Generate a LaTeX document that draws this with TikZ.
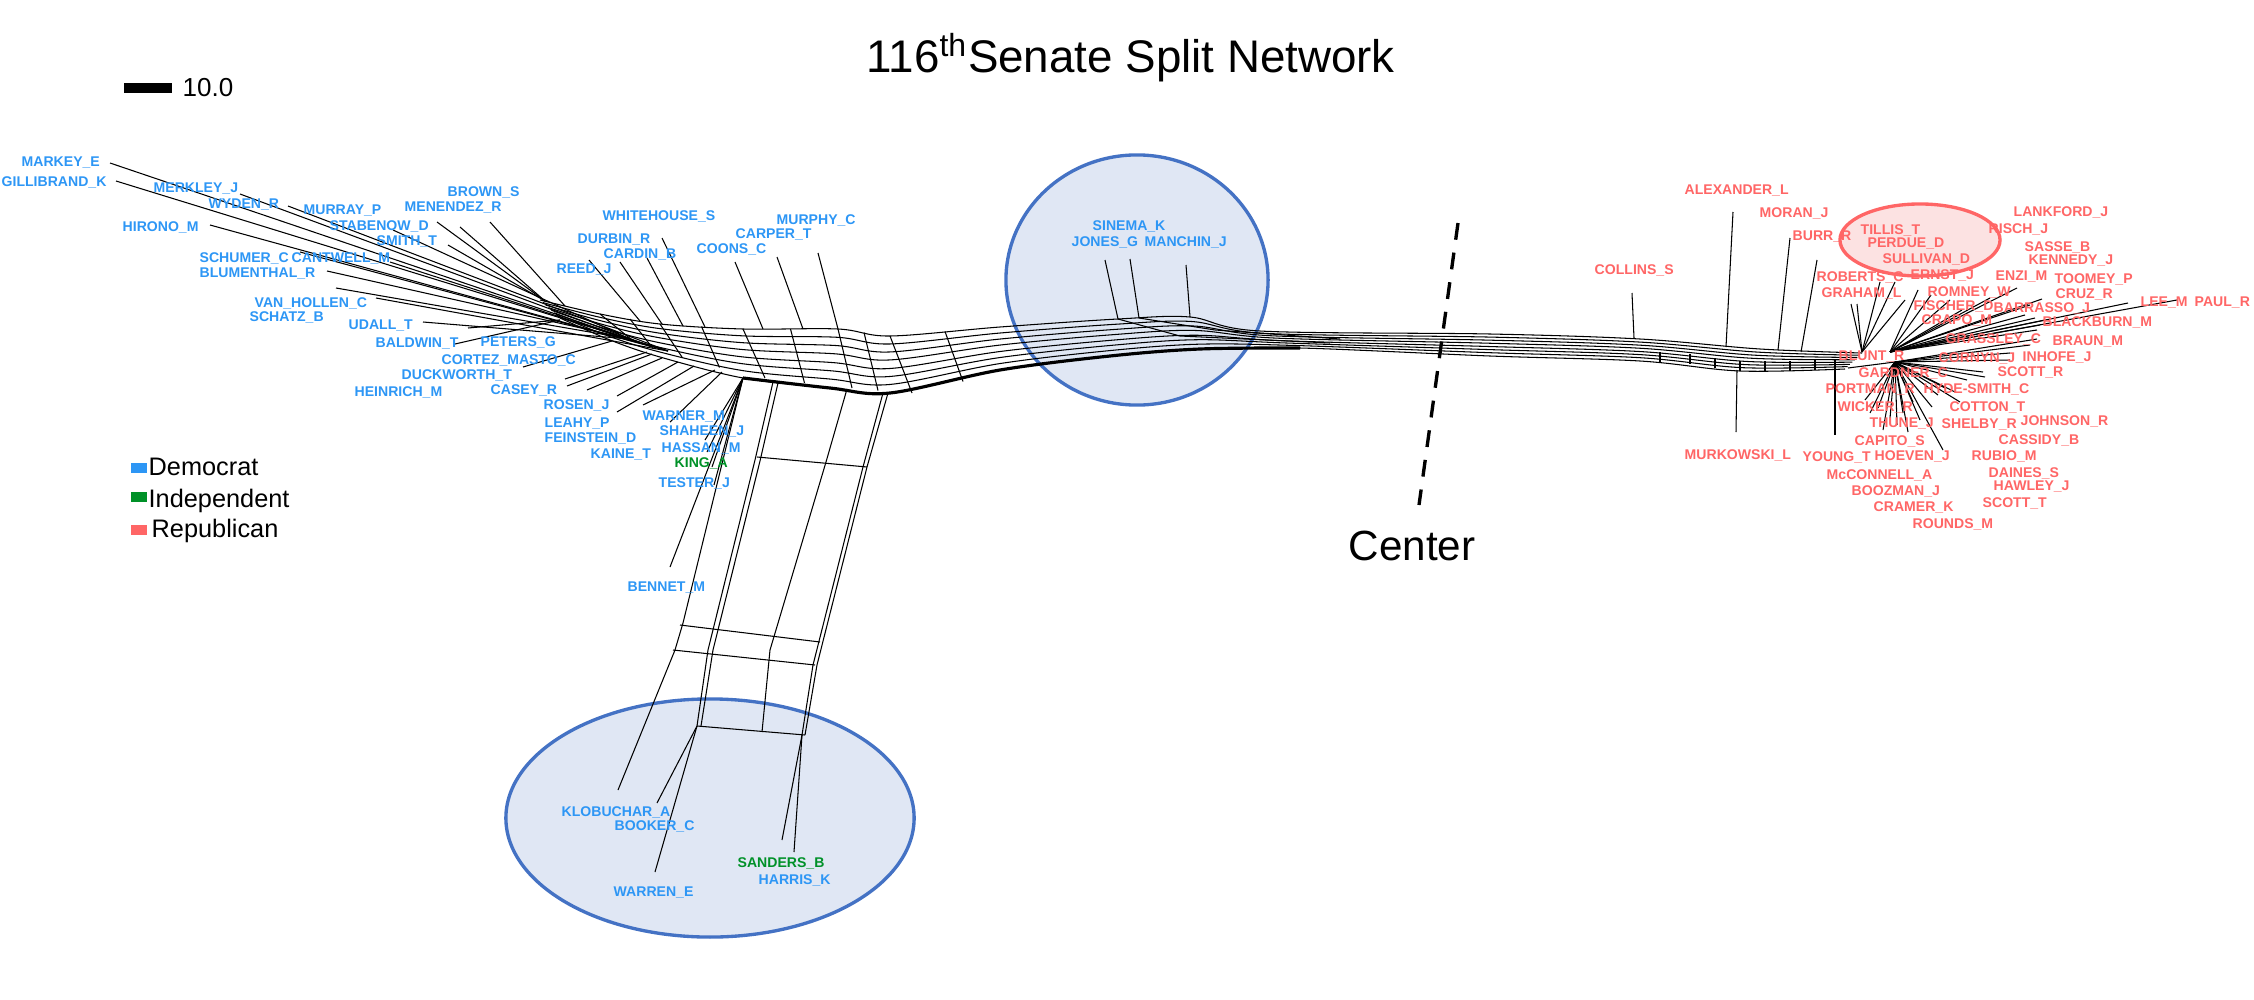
\documentclass[tikz,border=0pt]{standalone}
\usepackage{fontspec}
\setmainfont{Liberation Sans}
\usetikzlibrary{calc}

\definecolor{demblue}{RGB}{45,150,245}
\definecolor{indgreen}{RGB}{0,145,40}
\definecolor{repred}{RGB}{255,102,102}
\definecolor{bubblefill}{RGB}{224,231,244}
\definecolor{bubbleline}{RGB}{68,114,196}
\definecolor{pinkfill}{RGB}{252,226,226}

\tikzset{
  dem/.style={anchor=west,inner sep=0pt,text=demblue,font=\fontsize{4}{5}\selectfont\bfseries},
  ind/.style={dem,text=indgreen},
  rep/.style={dem,text=repred},
  net/.style={line width=0.3pt},
  leaf/.style={line width=0.3pt},
  bubble/.style={draw=bubbleline,fill=bubblefill,line width=0.95pt},
  redbubble/.style={draw=repred,fill=pinkfill,line width=0.95pt},
  legbox/.style={minimum width=0.16cm,minimum height=0.1cm,inner sep=0pt},
  legtext/.style={anchor=base west,inner sep=0pt,font=\fontsize{7.2}{9}\selectfont},
  midline/.style={line width=0.95pt,dash pattern=on 4.8pt off 3.7pt},
}

\begin{document}
\begin{tikzpicture}[x=0.01cm,y=-0.01cm]
\useasboundingbox (0,0) rectangle (2254,1000);

% highlighted groups
\draw[bubble] (710,818) ellipse [x radius=2.04cm,y radius=1.19cm];
\draw[bubble] (1137,280) ellipse [x radius=1.31cm,y radius=1.25cm];
\draw[redbubble] (1920,240) ellipse [x radius=0.8cm,y radius=0.36cm];

% title, scale and legend
\node[anchor=base west,inner sep=0pt,font=\fontsize{13}{15}\selectfont] (title) at (866,72) {116\textsuperscript{th}Senate Split Network};
\node[fill=black,minimum width=0.48cm,minimum height=0.1cm,inner sep=0pt] (scalebar) at (148,88) {};
\node[anchor=west,inner sep=0pt,font=\fontsize{7.4}{9}\selectfont] (scale) at (182,88) {10.0};
\node[legbox,fill=demblue] (kdem) at (139,468) {};
\node[legbox,fill=indgreen] (kind) at (139,497) {};
\node[legbox,fill=repred] (krep) at (139,530) {};
\node[legtext] (tdem) at (148,475) {Democrat};
\node[legtext] (tind) at (148,507) {Independent};
\node[legtext] (trep) at (151,537) {Republican};

% center
\node[anchor=base west,inner sep=0pt,font=\fontsize{12}{14}\selectfont] (center) at (1348,560) {Center};
\coordinate (ctop) at (1458,223);
\coordinate (cbot) at (1419,505);
\draw[midline] (ctop) -- (cbot);

% trunk: top edge a, bottom edge b
\foreach \i/\ax/\ay/\bx/\by in {1/540/300/560/318, 2/600/314/610/340, 3/660/324/660/357,
  4/743/329/743/378, 5/838/329/830/388, 6/890/336/890/393, 7/1000/327/1000/370,
  8/1118/319/1110/356, 9/1190/317/1200/349, 10/1260/331/1300/348, 11/1490/334/1490/356,
  12/1640/339/1640/361, 13/1760/349/1740/371, 14/1862/353/1845/369}
  {\coordinate (a\i) at (\ax,\ay); \coordinate (b\i) at (\bx,\by);}

\foreach \t in {0,0.14,0.28,0.42,0.57,0.71,0.85,1}
  \draw[net] plot[smooth,tension=0.55] coordinates {($(a1)!\t!(b1)$) ($(a2)!\t!(b2)$)
    ($(a3)!\t!(b3)$) ($(a4)!\t!(b4)$) ($(a5)!\t!(b5)$) ($(a6)!\t!(b6)$) ($(a7)!\t!(b7)$)
    ($(a8)!\t!(b8)$) ($(a9)!\t!(b9)$) ($(a10)!\t!(b10)$) ($(a11)!\t!(b11)$)
    ($(a12)!\t!(b12)$) ($(a13)!\t!(b13)$) ($(a14)!\t!(b14)$)};
\draw[net,line width=0.9pt] plot[smooth,tension=0.55] coordinates {(b4) (b5) (b6) (b7) (b8) (b9) (b10)};

% cross splits in the trunk
\foreach \i in {2,...,6}
  \draw[net] (a\i) -- ($(b\i)+(22,0)$);
\foreach \i/\j in {2/3,3/4,4/5,5/6,6/7}
  \draw[net] ($(a\i)!.5!(a\j)$) -- ($(b\i)!.5!(b\j)+(18,0)$);
\foreach \x/\y in {1660/362,1690/364,1715/368,1740/371,1765/371,1790/371,1815/370,1835/369}
  \draw[net] (\x,\y-10) -- (\x,\y);

% hubs
\coordinate (hA) at (650,346);
\coordinate (hB) at (668,351);
\coordinate (hF) at (630,339);
\coordinate (hC) at (545,301);
\coordinate (hD) at (565,306);
\coordinate (hE) at (560,320);
\coordinate (lo1) at (612,341);
\coordinate (lo2) at (647,352);
\coordinate (lo3) at (652,354);
\coordinate (lo4) at (662,358);
\coordinate (lo5) at (678,362);
\coordinate (lo6) at (694,366);
\coordinate (lo7) at (715,370);
\coordinate (lo8) at (722,372);
\coordinate (up1) at (640,321);
\coordinate (up2) at (662,324);
\coordinate (up3) at (683,326);
\coordinate (up4) at (705,327);
\coordinate (up5) at (763,329);
\coordinate (up6) at (803,329);
\coordinate (up7) at (838,329);
\coordinate (hLeg) at (743,378);
\coordinate (sin1) at (1118,319);
\coordinate (sin2) at (1139,318);
\coordinate (sin3) at (1190,317);
\coordinate (hK) at (675,650);
\coordinate (hBL) at (697,726);
\coordinate (hBR) at (802,735);
\coordinate (hColl) at (1634,338);
\coordinate (hAlex) at (1726,347);
\coordinate (hMor) at (1778,350);
\coordinate (hBurr) at (1801,352);
\coordinate (hMurk) at (1737,370);
\coordinate (hYoung) at (1835,370);
\coordinate (hRa) at (1862,352);
\coordinate (hRb) at (1890,352);
\coordinate (hRc) at (1895,362);

% the leg down to the lower group
\draw[net] (hLeg) -- (683,623) -- (hK);
\draw[net] (773,382) -- (755,460) -- (708,650) -- (hBL);
\draw[net] (778,383) -- (760,461) -- (713,650) -- (701,726);
\draw[net] (847,389) -- (826,462) -- (770,650) -- (762,732);
\draw[net] (883,393) -- (863,467) -- (813,665) -- (hBR);
\draw[net] (888,393) -- (867,467) -- (817,665) -- (805,735);
\draw[net] (757,457) -- (867,467);
\draw[net] (680,625) -- (820,642);
\draw[net] (673,650) -- (815,665);
\draw[net] (hBL) -- (805,735);

% inner splits near the middle group
\draw[net] (sin1) -- (1180,336) -- (1330,343);
\draw[net] (sin2) -- (1215,330) -- (1340,339);

% leaves
\foreach \n/\x/\y/\h in {markey/110/163/hA, gillibrand/116/181/hB, merkley/240/194/hA,
  wyden/288/206/hB, hirono/210/225/hA, murray/393/230/hF, stabenow/437/222/hC,
  menendez/460/227/hC, brown/490/222/hD, smith/448/245/hC, schumer/300/252/hB,
  cantwell/390/262/hA, blumenthal/327/271/hF, schatz/336/288/hF, vanhollen/376/298/hB,
  udall/423/322/hF, baldwin/455/344/hE, peters/468/328/hE, cortez/523/367/lo1,
  duckworth/565/379/lo2, casey/567/386/lo3, rosen/587/390/lo4, leahy/617/396/lo5,
  feinstein/617/412/lo6, kaine/643/405/lo7, warner/670/422/lo8, reed/589/260/up1,
  durbin/620/262/up2, cardin/647/258/up3, whitehouse/662/238/up4, coons/735/262/up5,
  carper/777/257/up6, murphy/818/253/up7, shaheen/705/440/hLeg, hassan/707/452/hLeg,
  king/712/467/hLeg, tester/714/485/hLeg, bennet/670/567/hLeg, sinema/1105/260/sin1,
  jones/1130/259/sin2, manchin/1186/265/sin3, klobuchar/618/790/hK, booker/657/803/hBL,
  warren/655/872/hBL, sanders/782/840/hBR, harris/794/852/hBR}
  {\coordinate (t-\n) at (\x,\y); \draw[leaf] (\h) -- (t-\n);}

\foreach \n/\x/\y/\h in {collins/1632/293/hColl, alexander/1733/212/hAlex, moran/1790/238/hMor,
  burr/1817/260/hBurr, murkowski/1736/432/hMurk, young/1835/435/hYoung, graham/1851/304/hRa,
  roberts/1857/304/hRa, ernst/1880/282/hRa, tillis/1895/282/hRa, sullivan/1905/300/hRa,
  perdue/1918/290/hRb, romney/1931/295/hRb, fischer/1950/300/hRb, crapo/1962/310/hRb,
  enzi/2017/288/hRb, risch/1990/298/hRb, barrasso/2042/299/hRb, cruz/2030/305/hRb,
  lee/2128/303/hRb, paul/2177/300/hRb, blackburn/2040/325/hRb, kennedy/2035/318/hRb,
  sasse/2025/315/hRb, lankford/2045/320/hRb, toomey/2037/330/hRb, grassley/2037/339/hRc,
  braun/2030/345/hRc, inhofe/2010/353/hRc, cornyn/2010/360/hRc, scottr/1985/377/hRc,
  hydesmith/1967/380/hRc, daines/1983/372/hRc, cotton/1960/402/hRc, johnson/1938/395/hRc,
  shelby/1932/407/hRc, cassidy/1945/388/hRc, hawley/1955/392/hRc, rubio/1913/402/hRc,
  scottt/1903/413/hRc, hoeven/1943/450/hRc, capito/1883/430/hRc, wicker/1870/413/hRc,
  thune/1890/418/hRc, mcconnell/1878/408/hRc, boozman/1897/425/hRc, cramer/1920/420/hRc,
  rounds/1908/432/hRc, portman/1865/400/hRc, gardner/1885/375/hRc, blunt/1848/368/hRc}
  {\coordinate (t-\n) at (\x,\y); \draw[leaf] (\h) -- (t-\n);}

% labels
\foreach \n/\x/\y/\s in {markey/21/163/MARKEY\_E, gillibrand/1/182/GILLIBRAND\_K,
  merkley/153/189/MERKLEY\_J, wyden/208/205/WYDEN\_R, hirono/122/227/HIRONO\_M,
  murray/303/211/MURRAY\_P, menendez/404/208/MENENDEZ\_R, brown/447/192/BROWN\_S,
  stabenow/329/226/STABENOW\_D, smith/376/241/SMITH\_T, schumer/199/258/SCHUMER\_C,
  cantwell/291/258/CANTWELL\_M, blumenthal/199/274/BLUMENTHAL\_R,
  vanhollen/254/303/VAN\_HOLLEN\_C, schatz/249/317/SCHATZ\_B, udall/348/326/UDALL\_T,
  baldwin/375/344/BALDWIN\_T, peters/480/342/PETERS\_G, cortez/441/360/CORTEZ\_MASTO\_C,
  duckworth/401/375/DUCKWORTH\_T, heinrich/354/392/HEINRICH\_M, casey/490/390/CASEY\_R,
  rosen/543/405/ROSEN\_J, leahy/544/424/LEAHY\_P, feinstein/544/438/FEINSTEIN\_D,
  kaine/590/455/KAINE\_T, warner/642/417/WARNER\_M, shaheen/659/431/SHAHEEN\_J,
  hassan/661/448/HASSAN\_M, tester/658/483/TESTER\_J, bennet/627/588/BENNET\_M,
  reed/556/270/REED\_J, durbin/577/240/DURBIN\_R, cardin/603/254/CARDIN\_B,
  whitehouse/602/216/WHITEHOUSE\_S, coons/696/249/COONS\_C, carper/735/234/CARPER\_T,
  murphy/776/220/MURPHY\_C, sinema/1092/226/SINEMA\_K, jones/1071/242/JONES\_G,
  manchin/1144/242/MANCHIN\_J, klobuchar/561/812/KLOBUCHAR\_A, booker/614/826/BOOKER\_C,
  warren/613/893/WARREN\_E, harris/758/880/HARRIS\_K}
  \node[dem] (\n) at (\x,\y) {\s};
\node[ind] (king) at (674,463) {KING\_A};
\node[ind] (sanders) at (737,863) {SANDERS\_B};

\foreach \n/\x/\y/\s in {alexander/1684/191/ALEXANDER\_L, moran/1759/213/MORAN\_J,
  collins/1594/270/COLLINS\_S, burr/1792/237/BURR\_R, tillis/1860/230/TILLIS\_T,
  perdue/1867/244/PERDUE\_D, sullivan/1882/259/SULLIVAN\_D, roberts/1816/277/ROBERTS\_C,
  ernst/1910/275/ERNST\_J, graham/1821/293/GRAHAM\_L, lankford/2013/212/LANKFORD\_J,
  risch/1988/229/RISCH\_J, sasse/2024/247/SASSE\_B, kennedy/2028/261/KENNEDY\_J,
  enzi/1995/277/ENZI\_M, toomey/2054/279/TOOMEY\_P, romney/1927/292/ROMNEY\_W,
  cruz/2055/294/CRUZ\_R, fischer/1913/306/FISCHER\_D, barrasso/1993/308/BARRASSO\_J,
  lee/2140/303/LEE\_M, paul/2194/303/PAUL\_R, crapo/1921/320/CRAPO\_M,
  blackburn/2042/322/BLACKBURN\_M, grassley/1945/339/GRASSLEY\_C, braun/2052/342/BRAUN\_M,
  blunt/1838/357/BLUNT\_R, cornyn/1938/358/CORNYN\_J, inhofe/2022/357/INHOFE\_J,
  scottr/1997/372/SCOTT\_R, gardner/1858/373/GARDNER\_C, portman/1825/389/PORTMAN\_R,
  hydesmith/1923/389/HYDE-SMITH\_C, wicker/1837/407/WICKER\_R, cotton/1949/407/COTTON\_T,
  thune/1869/424/THUNE\_J, shelby/1941/424/SHELBY\_R, johnson/2020/421/JOHNSON\_R,
  capito/1854/441/CAPITO\_S, cassidy/1998/440/CASSIDY\_B, murkowski/1684/455/MURKOWSKI\_L,
  young/1802/457/YOUNG\_T, hoeven/1874/456/HOEVEN\_J, rubio/1971/456/RUBIO\_M,
  mcconnell/1826/475/McCONNELL\_A, daines/1988/473/DAINES\_S, boozman/1851/491/BOOZMAN\_J,
  hawley/1993/487/HAWLEY\_J, cramer/1873/507/CRAMER\_K, scottt/1982/503/SCOTT\_T,
  rounds/1912/524/ROUNDS\_M}
  \node[rep] (\n) at (\x,\y) {\s};
\end{tikzpicture}
\end{document}
